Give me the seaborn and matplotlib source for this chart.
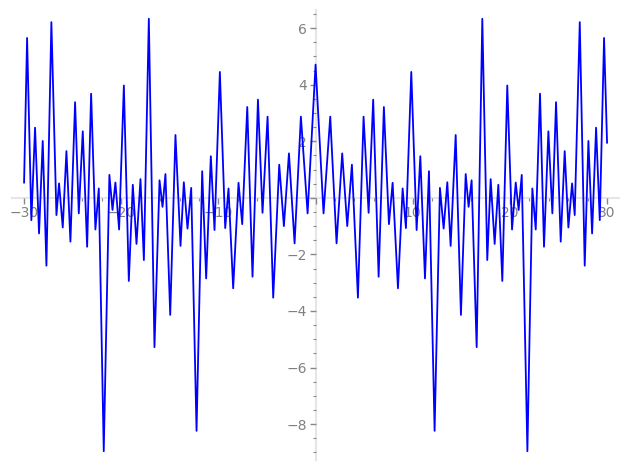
import numpy as np
import pandas as pd
import matplotlib
matplotlib.use("Agg")
import matplotlib.pyplot as plt
import seaborn as sns
from matplotlib.ticker import MultipleLocator, FuncFormatter

# Local extrema of the curve (left half, x < 0)
left_x = [-30.00, -29.69, -29.25, -28.87, -28.46, -28.08, -27.70, -27.19, -26.67, -26.40,
          -26.02, -25.64, -25.23, -24.75, -24.37, -23.96, -23.51, -23.10, -22.66, -22.31,
          -21.80, -21.22, -20.90, -20.60, -20.22, -19.73, -19.22, -18.81, -18.43, -18.02,
          -17.67, -17.16, -16.58, -16.06, -15.75, -15.45, -14.96, -14.42, -13.90, -13.56,
          -13.18, -12.80, -12.25, -11.67, -11.26, -10.78, -10.40, -9.85, -9.30, -8.96,
          -8.48, -7.93, -7.55, -7.03, -6.49, -5.93, -5.46, -4.94, -4.36, -3.74,
          -3.26, -2.74, -2.16, -1.51, -0.82]
left_y = [0.53, 5.65, -0.79, 2.48, -1.26, 2.01, -2.40, 6.21, -0.61, 0.51,
          -1.05, 1.65, -1.55, 3.38, -0.55, 2.35, -1.73, 3.68, -1.12, 0.33,
          -8.96, 0.81, -0.43, 0.54, -1.12, 3.97, -2.94, 0.46, -1.63, 0.66,
          -2.20, 6.33, -5.28, 0.62, -0.32, 0.84, -4.14, 2.22, -1.70, 0.55,
          -1.09, 0.35, -8.24, 0.94, -2.85, 1.47, -1.14, 4.45, -1.07, 0.33,
          -3.20, 0.53, -0.93, 3.21, -2.79, 3.47, -0.53, 2.87, -3.53, 1.17,
          -1.00, 1.57, -1.61, 2.87, -0.55]

# Right half, x >= 0
right_x = [0.00, 0.82, 1.51, 2.16, 2.74, 3.26, 3.74, 4.36, 4.94, 5.46,
           5.93, 6.49, 7.03, 7.55, 7.93, 8.48, 8.96, 9.30, 9.85, 10.40,
           10.78, 11.26, 11.67, 12.25, 12.80, 13.18, 13.56, 13.90, 14.42, 14.96,
           15.45, 15.75, 16.06, 16.58, 17.16, 17.67, 18.02, 18.43, 18.81, 19.22,
           19.73, 20.22, 20.60, 20.90, 21.22, 21.80, 22.31, 22.66, 23.10, 23.51,
           23.96, 24.37, 24.75, 25.23, 25.64, 26.02, 26.40, 26.67, 27.19, 27.70,
           28.08, 28.46, 28.87, 29.25, 29.69, 30.00]
right_y = [4.71, -0.55, 2.87, -1.61, 1.57, -1.00, 1.17, -3.53, 2.87, -0.53,
           3.47, -2.79, 3.21, -0.93, 0.53, -3.20, 0.33, -1.07, 4.45, -1.14,
           1.47, -2.85, 0.94, -8.24, 0.35, -1.09, 0.55, -1.70, 2.22, -4.14,
           0.84, -0.32, 0.62, -5.28, 6.33, -2.20, 0.66, -1.63, 0.46, -2.94,
           3.97, -1.12, 0.54, -0.43, 0.81, -8.96, 0.33, -1.12, 3.68, -1.73,
           2.35, -0.55, 3.38, -1.55, 1.65, -1.05, 0.51, -0.61, 6.21, -2.40,
           2.01, -1.26, 2.48, -0.79, 5.65, 1.94]

df = pd.DataFrame({"x": left_x + right_x, "y": left_y + right_y})

sns.set_style("white")
plt.rcParams["font.family"] = ["DejaVu Sans"]

fig = plt.figure(figsize=(6.27, 4.70), dpi=100)
ax = fig.add_axes([0.0198, 0.0213, 0.967, 0.9574])

line = sns.lineplot(data=df, x="x", y="y", sort=False, estimator=None,
                    color="#0000ff", linewidth=1.3, ax=ax)
for ln in ax.lines:
    ln.set_solid_joinstyle("round")

ax.set_xlim(-31.2, 31.2)
ax.set_ylim(-9.27, 6.64)

# axes crossing at the origin, sage style
for side in ["top", "right"]:
    ax.spines[side].set_visible(False)
for side in ["left", "bottom"]:
    ax.spines[side].set_position(("data", 0))
    ax.spines[side].set_color("#e6e6e6")
    ax.spines[side].set_linewidth(1.5)
    ax.spines[side].set_zorder(0)

ax.xaxis.set_major_locator(MultipleLocator(10))
ax.xaxis.set_minor_locator(MultipleLocator(2))
ax.yaxis.set_major_locator(MultipleLocator(2))
ax.yaxis.set_minor_locator(MultipleLocator(0.5))

fmt = FuncFormatter(lambda v, p: "" if abs(v) < 1e-9 else f"{v:.0f}".replace("-", "\u2212"))
ax.xaxis.set_major_formatter(fmt)
ax.yaxis.set_major_formatter(fmt)

ax.tick_params(axis="both", which="both", bottom=True, left=True, top=False, right=False)
ax.tick_params(axis="both", which="major", length=4, width=1, color="#888888",
               labelcolor="#808080", labelsize=10, direction="out", pad=2)
ax.tick_params(axis="both", which="minor", length=2, width=0.8, color="#888888",
               direction="out")
ax.set_xlabel("")
ax.set_ylabel("")

fig.savefig("out.png", dpi=100)
